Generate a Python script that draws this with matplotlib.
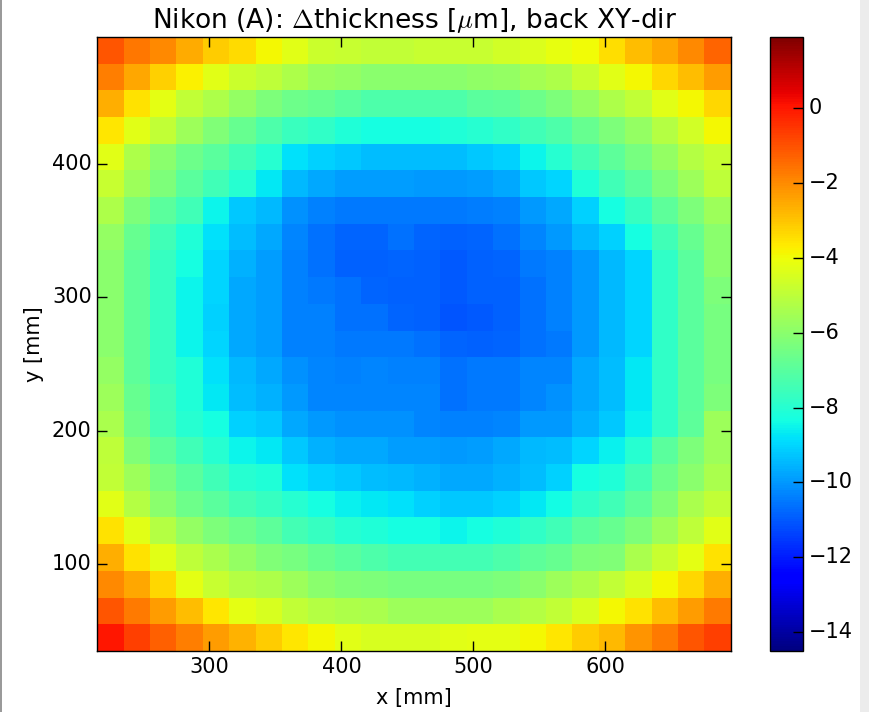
import numpy as np
import matplotlib
matplotlib.use("Agg")
import matplotlib.pyplot as plt
from matplotlib.patches import Rectangle

plt.style.use("classic")
plt.rcParams["font.size"] = 15
plt.rcParams["font.family"] = ["DejaVu Sans"]

# cell centres [mm]
x_mm = np.arange(225, 686, 20)   # 24 columns
y_mm = np.arange(45, 486, 20)    # 23 rows

# delta thickness [um], rows listed from top (y=485) to bottom (y=45)
dthick_top_down = [
    [-1.05, -1.66, -2.0, -2.54, -3.1, -3.4, -3.88, -4.29, -4.7, -4.77, -4.95, -4.95, -4.8, -4.8, -4.8, -4.6, -4.4, -4.15, -3.93, -3.47, -2.9, -2.5, -1.95, -1.35],
    [-1.8, -2.5, -3.2, -3.8, -4.3, -4.7, -5.0, -5.3, -5.7, -5.8, -6.0, -6.0, -6.0, -6.0, -5.9, -5.8, -5.5, -5.3, -4.8, -4.3, -3.9, -3.3, -2.9, -2.3],
    [-2.6, -3.5, -4.2, -4.9, -5.3, -5.8, -6.3, -6.6, -6.7, -7.0, -7.2, -7.2, -7.2, -7.2, -7.0, -6.9, -6.6, -6.3, -5.8, -5.3, -4.9, -4.3, -3.9, -3.3],
    [-3.6, -4.3, -4.9, -5.6, -6.2, -6.7, -7.2, -7.6, -7.8, -8.1, -8.3, -8.3, -8.3, -8.1, -8.0, -7.8, -7.5, -7.2, -6.7, -6.3, -5.8, -5.2, -4.6, -3.9],
    [-4.3, -5.3, -6.0, -6.6, -7.0, -7.5, -8.0, -8.8, -9.1, -9.2, -9.4, -9.4, -9.4, -9.4, -9.2, -9.1, -8.5, -8.0, -7.4, -6.9, -6.4, -5.8, -5.2, -4.8],
    [-4.8, -5.6, -6.3, -7.0, -7.5, -8.0, -8.7, -9.5, -9.75, -9.9, -9.9, -9.9, -10.0, -10.0, -9.9, -9.75, -9.2, -9.0, -8.1, -7.5, -7.0, -6.3, -5.6, -5.0],
    [-5.3, -6.3, -7.0, -7.5, -8.5, -9.2, -9.5, -10.1, -10.4, -10.5, -10.5, -10.5, -10.5, -10.5, -10.45, -10.4, -10.0, -9.75, -9.1, -8.3, -7.7, -6.9, -6.3, -5.6],
    [-5.8, -6.7, -7.5, -8.1, -8.8, -9.4, -9.75, -10.3, -10.6, -10.8, -10.8, -10.6, -10.8, -10.9, -10.8, -10.6, -10.3, -10.0, -9.5, -9.1, -8.3, -7.5, -6.7, -6.0],
    [-6.0, -6.9, -7.7, -8.3, -9.0, -9.6, -9.9, -10.4, -10.6, -10.9, -10.9, -10.8, -10.9, -11.0, -10.9, -10.8, -10.5, -10.4, -10.0, -9.5, -9.0, -7.8, -7.0, -6.0],
    [-6.0, -6.9, -7.7, -8.5, -9.0, -9.75, -9.9, -10.4, -10.5, -10.6, -10.8, -10.9, -10.9, -11.0, -10.9, -10.9, -10.6, -10.4, -10.0, -9.5, -9.0, -7.8, -7.0, -6.3],
    [-6.0, -6.9, -7.7, -8.5, -9.1, -9.75, -9.9, -10.4, -10.4, -10.6, -10.6, -10.8, -10.9, -11.1, -11.0, -10.9, -10.6, -10.4, -10.0, -9.5, -9.0, -7.8, -7.0, -6.4],
    [-6.0, -6.9, -7.7, -8.5, -9.0, -9.75, -9.9, -10.4, -10.4, -10.5, -10.5, -10.5, -10.6, -10.8, -10.85, -10.8, -10.6, -10.5, -10.0, -9.5, -9.0, -7.8, -7.0, -6.4],
    [-5.8, -6.9, -7.7, -8.1, -8.8, -9.5, -9.75, -10.1, -10.3, -10.4, -10.3, -10.4, -10.4, -10.6, -10.5, -10.5, -10.3, -10.3, -9.75, -9.4, -8.7, -7.8, -7.0, -6.4],
    [-5.6, -6.7, -7.5, -8.1, -8.7, -9.4, -9.6, -10.0, -10.3, -10.3, -10.3, -10.3, -10.3, -10.6, -10.5, -10.5, -10.3, -10.1, -9.75, -9.4, -8.7, -7.8, -7.0, -6.3],
    [-5.4, -6.6, -7.4, -8.0, -8.3, -9.1, -9.2, -9.75, -10.0, -10.1, -10.1, -10.1, -10.3, -10.4, -10.4, -10.3, -10.0, -10.0, -9.6, -9.2, -8.6, -7.8, -6.9, -5.6],
    [-5.0, -6.2, -6.9, -7.5, -8.0, -8.5, -8.7, -9.2, -9.6, -9.75, -9.75, -9.9, -9.9, -10.0, -9.9, -9.75, -9.5, -9.4, -9.0, -8.6, -8.0, -7.0, -6.3, -5.6],
    [-4.9, -5.6, -6.4, -7.0, -7.5, -8.0, -8.1, -8.8, -9.1, -9.2, -9.4, -9.5, -9.6, -9.75, -9.75, -9.6, -9.4, -9.1, -8.3, -8.1, -7.4, -6.6, -6.0, -5.4],
    [-4.3, -5.2, -6.0, -6.6, -7.0, -7.4, -7.7, -8.0, -8.3, -8.6, -8.7, -8.8, -9.1, -9.2, -9.2, -9.1, -8.7, -8.4, -7.8, -7.5, -6.9, -6.2, -5.4, -4.9],
    [-3.5, -4.3, -5.2, -5.8, -6.3, -6.6, -6.9, -7.4, -7.7, -8.0, -8.1, -8.3, -8.3, -8.5, -8.3, -8.1, -7.8, -7.5, -7.0, -6.7, -6.3, -5.6, -5.0, -4.3],
    [-2.6, -3.5, -4.3, -5.0, -5.4, -5.8, -6.2, -6.4, -6.7, -7.0, -7.2, -7.4, -7.4, -7.4, -7.4, -7.2, -6.9, -6.7, -6.3, -6.2, -5.4, -4.8, -4.2, -3.5],
    [-1.95, -2.5, -3.3, -4.2, -4.8, -5.2, -5.3, -5.6, -6.0, -6.2, -6.3, -6.4, -6.4, -6.4, -6.4, -6.3, -6.0, -5.6, -5.3, -4.9, -4.5, -3.9, -3.3, -2.6],
    [-1.05, -1.7, -2.3, -2.9, -3.6, -4.2, -4.5, -4.9, -5.2, -5.3, -5.4, -5.6, -5.6, -5.6, -5.6, -5.4, -5.2, -4.9, -4.5, -3.9, -3.5, -2.9, -2.3, -1.7],
    [0.0, -0.7, -1.25, -1.8, -2.3, -2.7, -3.1, -3.6, -3.9, -4.3, -4.5, -4.5, -4.5, -4.3, -4.2, -4.2, -3.9, -3.6, -3.1, -2.8, -2.2, -1.7, -1.1, -0.7],
]
cbar_ticks = [0, -2, -4, -6, -8, -10, -12, -14]
vmin, vmax = -14.5, 1.9

z = np.flipud(np.array(dthick_top_down))

fig = plt.figure(figsize=(8.7, 7.12), dpi=100, facecolor="white")
ax = fig.add_axes([0.1118, 0.0857, 0.7283, 0.8625])
cax = fig.add_axes([0.885, 0.0857, 0.038, 0.8625])

mesh = ax.pcolormesh(x_mm, y_mm, z, cmap="jet", vmin=vmin, vmax=vmax,
                     shading="nearest", edgecolors="none")
ax.set_xlim(x_mm[0] - 10, x_mm[-1] + 10)
ax.set_ylim(y_mm[0] - 10, y_mm[-1] + 10)
ax.set_xticks([300, 400, 500, 600])
ax.set_yticks([100, 200, 300, 400])
ax.tick_params(length=7, width=1)
ax.set_xlabel("x [mm]", labelpad=8)
ax.set_ylabel("y [mm]", labelpad=6)
ax.set_title(r"Nikon (A): $\Delta$thickness [$\mu$m], back XY-dir", fontsize=19, y=1.003)

cb = fig.colorbar(mesh, cax=cax, ticks=cbar_ticks)
cb.ax.tick_params(length=7, width=1)

# screenshot border bits
fig.patches.append(Rectangle((860 / 870, 0), 10 / 870, 1, transform=fig.transFigure,
                             facecolor="#ececec", edgecolor="none", zorder=-1))
fig.patches.append(Rectangle((0, 0), 2 / 870, 1, transform=fig.transFigure,
                             facecolor="#9a9a9a", edgecolor="none", zorder=-1))

fig.savefig("out.png", dpi=100, facecolor="white")
